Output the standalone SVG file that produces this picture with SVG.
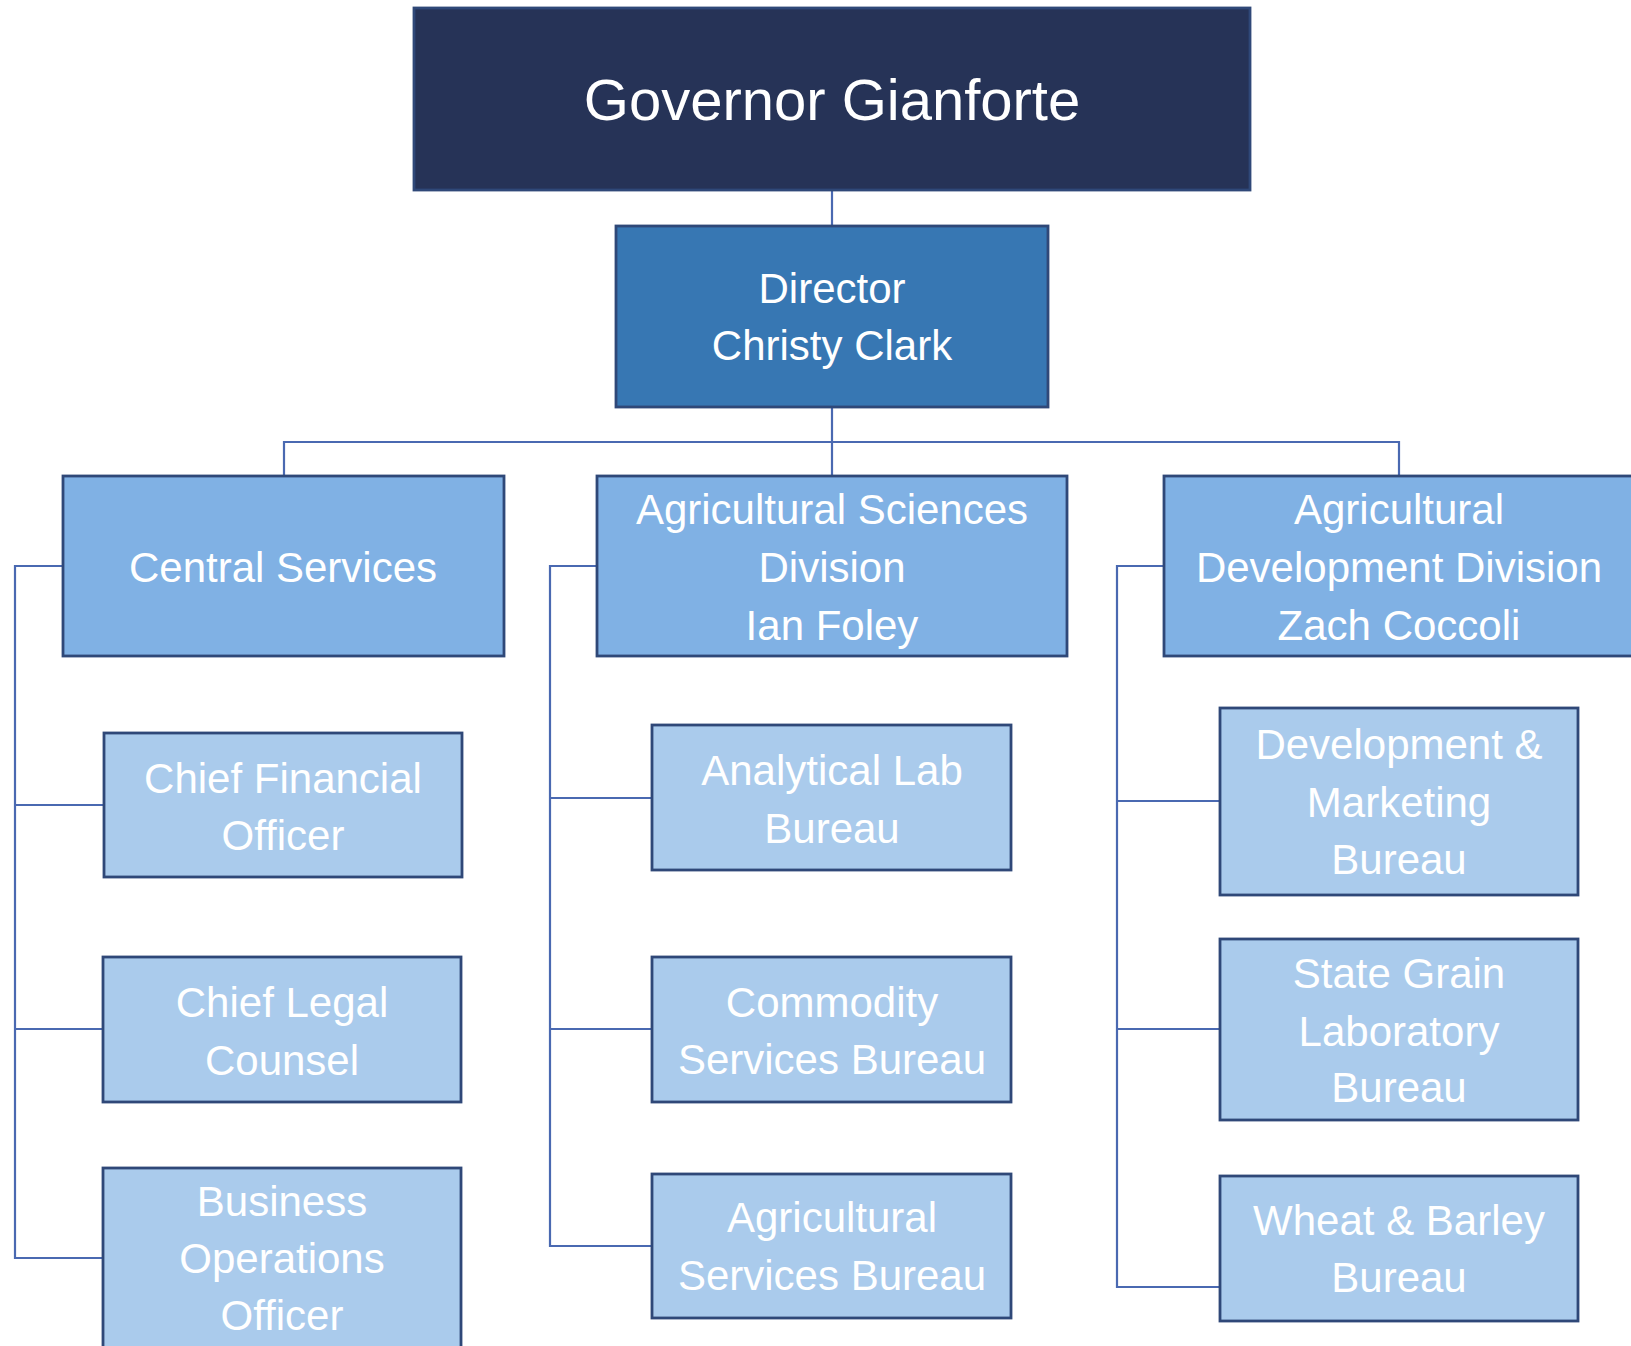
<svg xmlns="http://www.w3.org/2000/svg" width="1631" height="1346" viewBox="0 0 1631 1346">
<style>
  .box { stroke: #2F4878; stroke-width: 2.8; }
  .gov { fill: #263357; }
  .dir { fill: #3777B3; }
  .div { fill: #80B1E4; }
  .bur { fill: #AACBEC; }
  text { font-family: "Liberation Sans", Arial, sans-serif; fill: #FFFFFF; text-anchor: middle; font-size: 42px; }
  .big { font-size: 58px; }
  .conn { fill: none; stroke: #4A69B1; stroke-width: 2.2; }
</style>
<rect width="1631" height="1346" fill="#FFFFFF"/>
<g id="connectors">
  <path class="conn" d="M832 190 V226"/>
  <path class="conn" d="M832 407 V476"/>
  <path class="conn" d="M284 476 V442 H1399 V476"/>
  <path class="conn" d="M63 566 H15 V1258 H103"/>
  <path class="conn" d="M15 805 H104"/>
  <path class="conn" d="M15 1029 H103"/>
  <path class="conn" d="M597 566 H550 V1246 H652"/>
  <path class="conn" d="M550 798 H652"/>
  <path class="conn" d="M550 1029 H652"/>
  <path class="conn" d="M1164 566 H1117 V1287 H1220"/>
  <path class="conn" d="M1117 801 H1220"/>
  <path class="conn" d="M1117 1029 H1220"/>
</g>
<g id="governor">
  <rect class="box gov" x="414" y="8" width="836" height="182"/>
  <text class="big" x="832" y="120">Governor Gianforte</text>
</g>
<g id="director">
  <rect class="box dir" x="616" y="226" width="432" height="181"/>
  <text x="832" y="303">Director</text>
  <text x="832" y="360">Christy Clark</text>
</g>
<g id="central-services">
  <rect class="box div" x="63" y="476" width="441" height="180"/>
  <text x="283" y="582">Central Services</text>
</g>
<g id="ag-sciences">
  <rect class="box div" x="597" y="476" width="470" height="180"/>
  <text x="832" y="524">Agricultural Sciences</text>
  <text x="832" y="582">Division</text>
  <text x="832" y="640">Ian Foley</text>
</g>
<g id="ag-development">
  <rect class="box div" x="1164" y="476" width="470" height="180"/>
  <text x="1399" y="524">Agricultural</text>
  <text x="1399" y="582">Development Division</text>
  <text x="1399" y="640">Zach Coccoli</text>
</g>
<g id="cfo">
  <rect class="box bur" x="104" y="733" width="358" height="144"/>
  <text x="283" y="793">Chief Financial</text>
  <text x="283" y="850">Officer</text>
</g>
<g id="legal">
  <rect class="box bur" x="103" y="957" width="358" height="145"/>
  <text x="282" y="1017">Chief Legal</text>
  <text x="282" y="1075">Counsel</text>
</g>
<g id="business-ops">
  <rect class="box bur" x="103" y="1168" width="358" height="200"/>
  <text x="282" y="1216">Business</text>
  <text x="282" y="1273">Operations</text>
  <text x="282" y="1330">Officer</text>
</g>
<g id="analytical-lab">
  <rect class="box bur" x="652" y="725" width="359" height="145"/>
  <text x="832" y="785">Analytical Lab</text>
  <text x="832" y="843">Bureau</text>
</g>
<g id="commodity">
  <rect class="box bur" x="652" y="957" width="359" height="145"/>
  <text x="832" y="1017">Commodity</text>
  <text x="832" y="1074">Services Bureau</text>
</g>
<g id="ag-services">
  <rect class="box bur" x="652" y="1174" width="359" height="144"/>
  <text x="832" y="1232">Agricultural</text>
  <text x="832" y="1290">Services Bureau</text>
</g>
<g id="dev-marketing">
  <rect class="box bur" x="1220" y="708" width="358" height="187"/>
  <text x="1399" y="759">Development &amp;</text>
  <text x="1399" y="817">Marketing</text>
  <text x="1399" y="874">Bureau</text>
</g>
<g id="state-grain">
  <rect class="box bur" x="1220" y="939" width="358" height="181"/>
  <text x="1399" y="988">State Grain</text>
  <text x="1399" y="1046">Laboratory</text>
  <text x="1399" y="1102">Bureau</text>
</g>
<g id="wheat-barley">
  <rect class="box bur" x="1220" y="1176" width="358" height="145"/>
  <text x="1399" y="1235">Wheat &amp; Barley</text>
  <text x="1399" y="1292">Bureau</text>
</g>
</svg>
